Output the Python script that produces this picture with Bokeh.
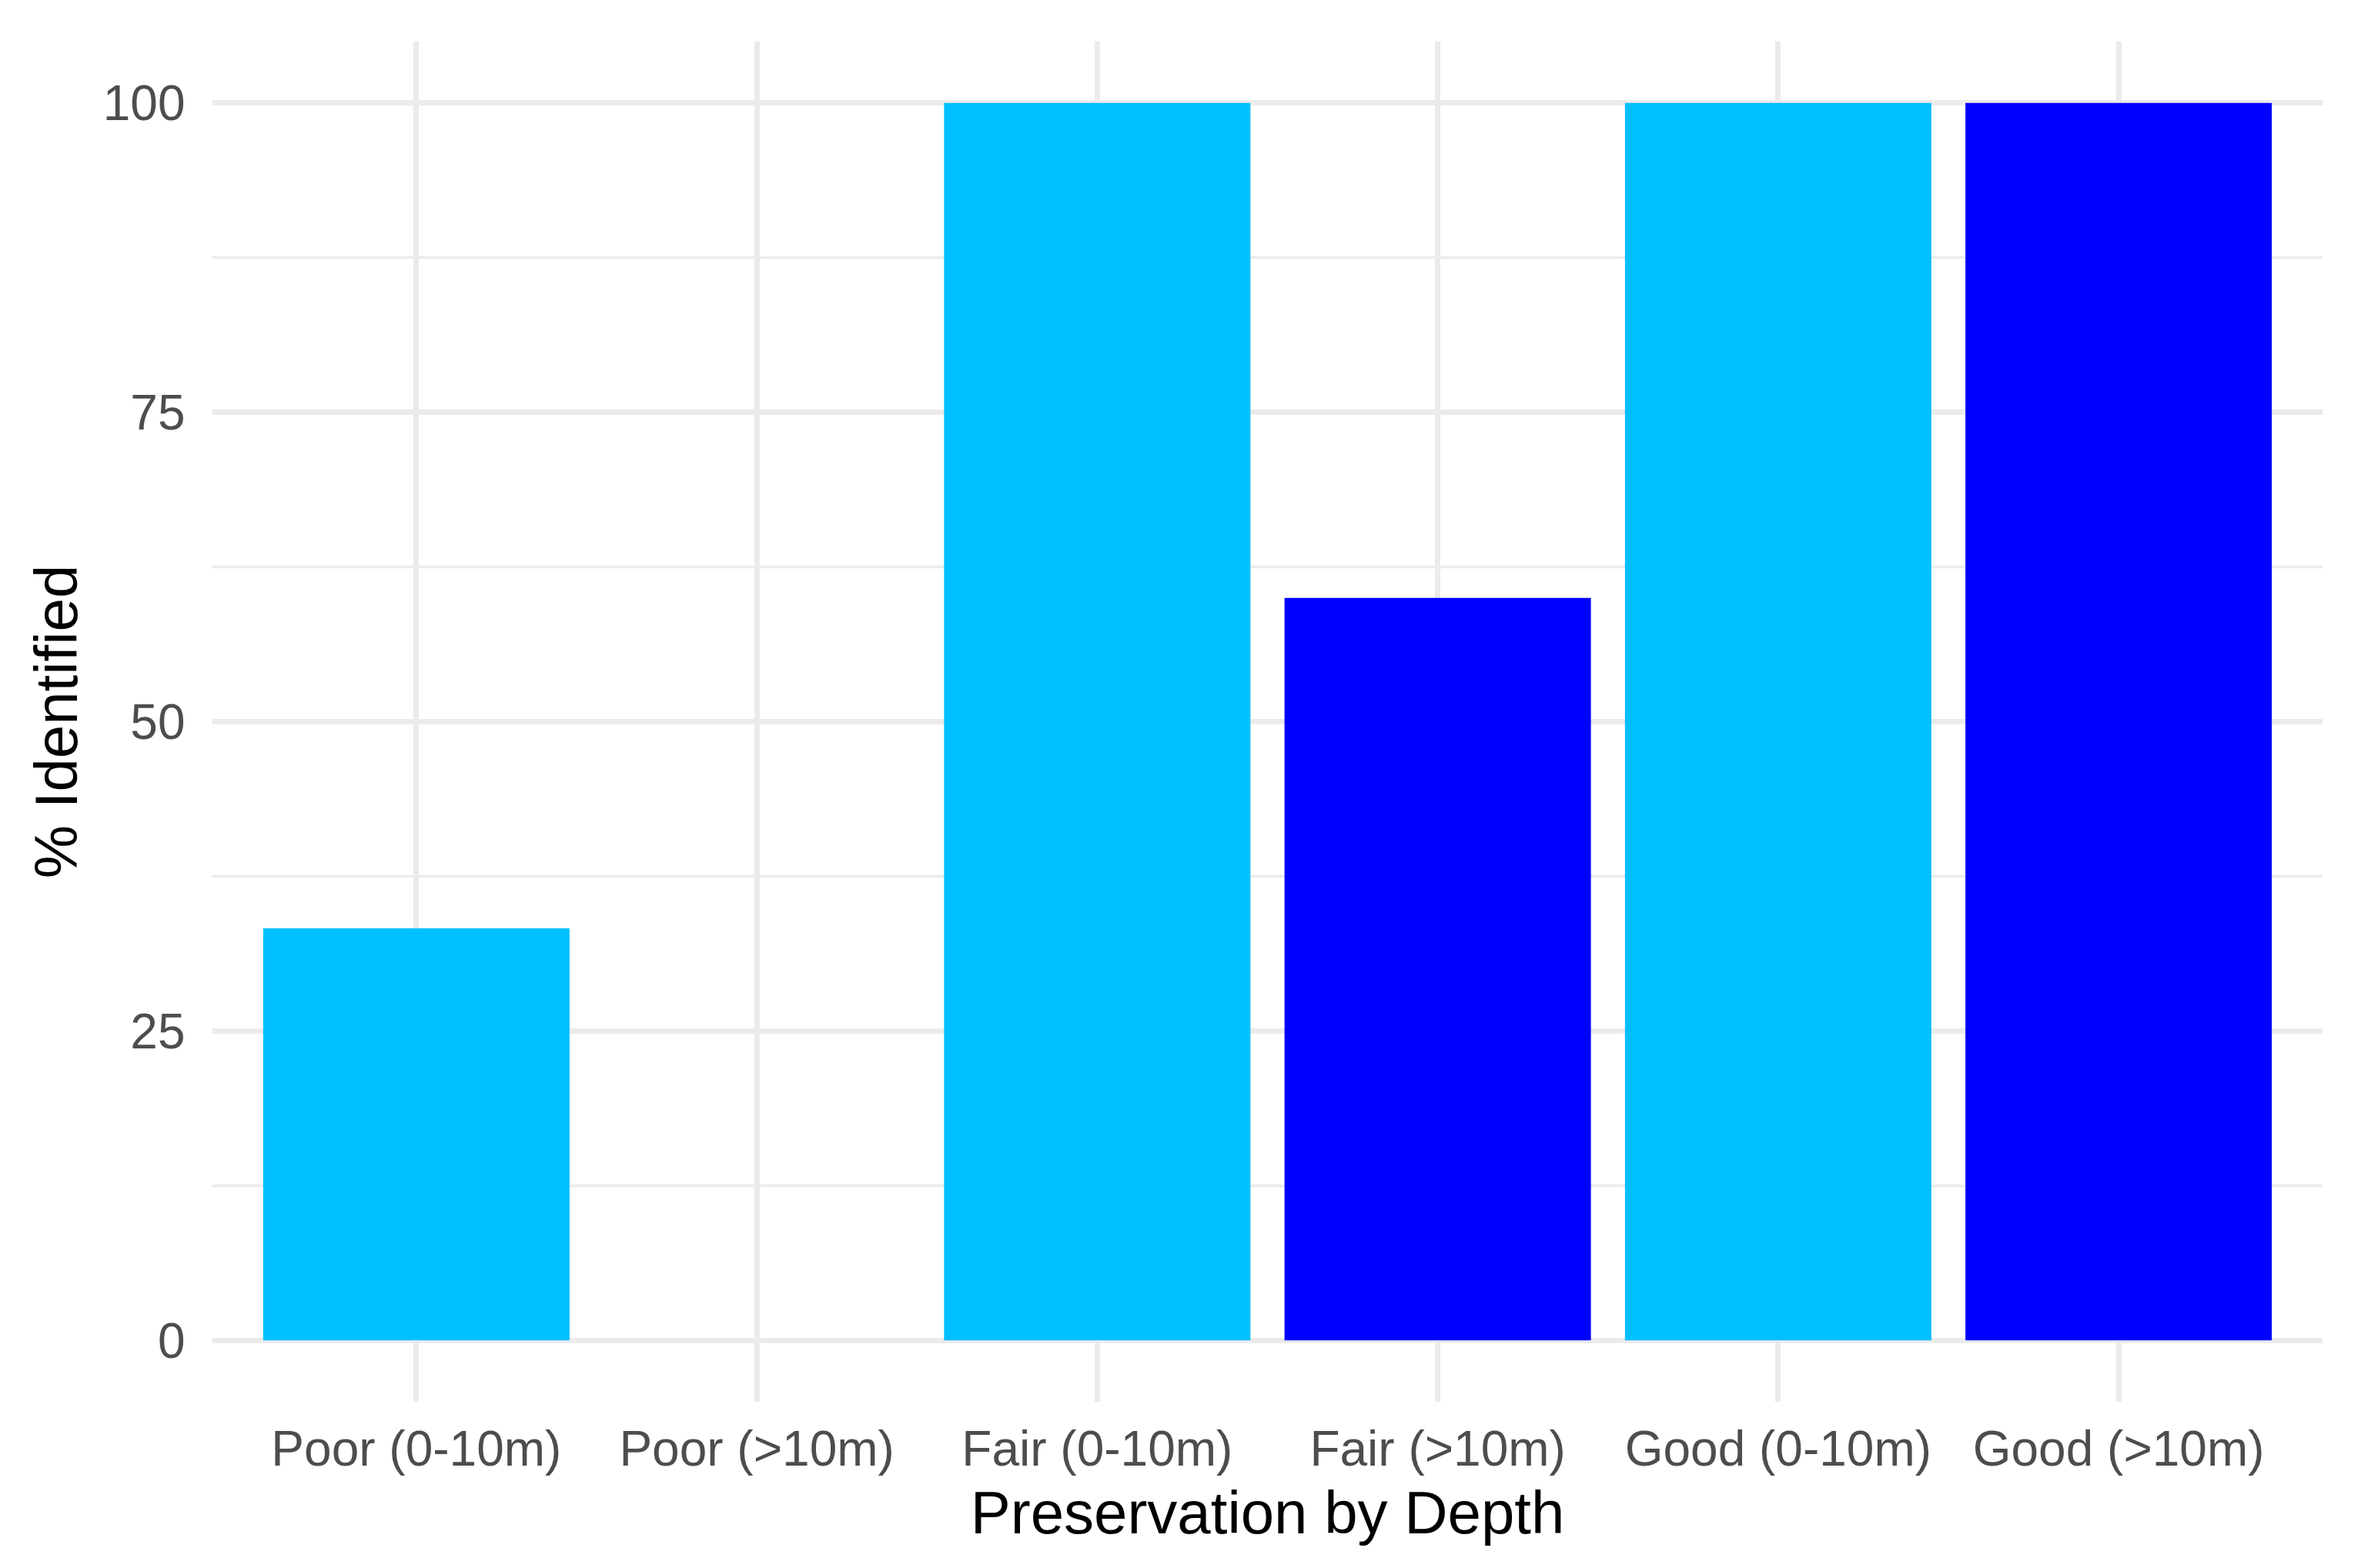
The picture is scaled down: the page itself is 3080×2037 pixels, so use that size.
from bokeh.plotting import figure
from bokeh.models import ColumnDataSource, FactorRange, Range1d, FixedTicker
from bokeh.transform import factor_cmap
from bokeh.embed import file_html
from bokeh.resources import INLINE

# ---- data ----
categories = ["Poor (0-10m)", "Poor (>10m)", "Fair (0-10m)", "Fair (>10m)",
              "Good (0-10m)", "Good (>10m)"]
percent_identified = [33.3, 0, 100, 60, 100, 100]
depth = ["0-10m", ">10m", "0-10m", ">10m", "0-10m", ">10m"]
depth_levels = ["0-10m", ">10m"]
depth_colors = ["#00BFFF", "#0000FF"]
y_major_ticks = [0, 25, 50, 75, 100]
y_minor_ticks = [12.5, 37.5, 62.5, 87.5]

source = ColumnDataSource(data=dict(category=categories,
                                    value=percent_identified,
                                    depth=depth))

p = figure(
    width=3064, height=2029,
    x_range=FactorRange(factors=categories, range_padding=0.1,
                        range_padding_units="absolute"),
    y_range=Range1d(-5, 105),
    output_backend="svg", toolbar_location=None,
    min_border_left=275, min_border_top=53,
    min_border_right=47, min_border_bottom=208,
)

p.vbar(x="category", top="value", bottom=0, width=0.9, source=source,
       fill_color=factor_cmap("depth", palette=depth_colors, factors=depth_levels),
       line_color=None)

p.background_fill_color = "white"
p.border_fill_color = "white"
p.outline_line_color = None

# axes
for ax in (p.xaxis[0], p.yaxis[0]):
    ax.axis_line_color = None
    ax.major_tick_line_color = None
    ax.minor_tick_line_color = None
    ax.major_tick_out = 0
    ax.minor_tick_out = 0
    ax.major_label_text_font = "Liberation Sans"
    ax.major_label_text_font_size = "64px"
    ax.major_label_text_color = "#4D4D4D"
    ax.axis_label_text_font = "Liberation Sans"
    ax.axis_label_text_font_size = "78px"
    ax.axis_label_text_font_style = "normal"
    ax.axis_label_text_color = "black"

p.xaxis.axis_label = "Preservation by Depth"
p.yaxis.axis_label = "% Identified"
p.xaxis.major_label_standoff = 24
p.xaxis.axis_label_standoff = 0
p.yaxis.major_label_standoff = 35
p.yaxis.axis_label_standoff = 14

p.yaxis.ticker = FixedTicker(ticks=y_major_ticks, minor_ticks=y_minor_ticks)

# grid
p.xgrid.grid_line_color = "#EBEBEB"
p.xgrid.grid_line_width = 7
p.ygrid.grid_line_color = "#EBEBEB"
p.ygrid.grid_line_width = 7
p.ygrid.minor_grid_line_color = "#EBEBEB"
p.ygrid.minor_grid_line_width = 3.5
p.xgrid.level = "underlay"
p.ygrid.level = "underlay"

open("out.html", "w").write(file_html(p, INLINE))
